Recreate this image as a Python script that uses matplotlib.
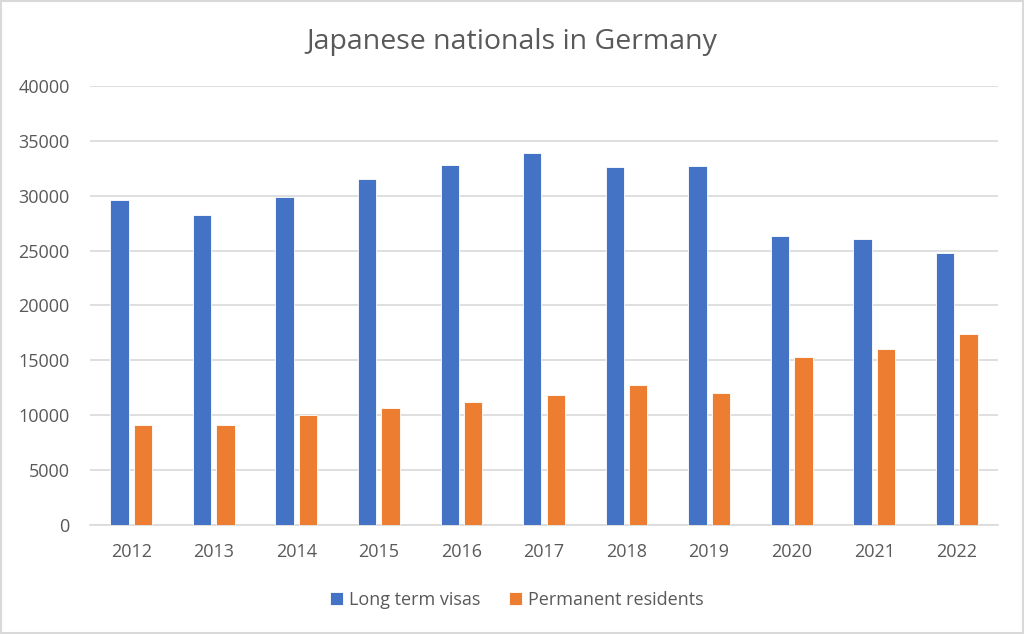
import matplotlib.pyplot as plt
import numpy as np
from matplotlib.patches import Rectangle

years = ["2012", "2013", "2014", "2015", "2016", "2017",
         "2018", "2019", "2020", "2021", "2022"]
long_term_visas = [29600, 28250, 29850, 31520, 32800, 33850,
                   32620, 32740, 26370, 26070, 24800]
permanent_residents = [9120, 9120, 10000, 10670, 11220, 11860,
                       12740, 12010, 15310, 16040, 17430]

BLUE = "#4472C4"
ORANGE = "#ED7D31"
TEXT = "#595959"
GRID = "#D9D9D9"

plt.rcParams["font.family"] = ["Open Sans", "DejaVu Sans"]

fig = plt.figure(figsize=(10.24, 6.34), dpi=100)
ax = fig.add_axes([0.0879, 0.172, 0.8867, 0.6924])

x = np.arange(len(years))
width = 0.222
offset = 0.142
ax.bar(x - offset, long_term_visas, width, color=BLUE, edgecolor="white",
       linewidth=0.6, label="Long term visas", zorder=3)
ax.bar(x + offset, permanent_residents, width, color=ORANGE, edgecolor="white",
       linewidth=0.6, label="Permanent residents", zorder=3)

ax.set_xlim(-0.5, len(years) - 0.5)
ax.set_ylim(0, 40000)
ax.set_yticks(np.arange(0, 40001, 5000))
ax.set_xticks(x)
ax.set_xticklabels(years)
ax.yaxis.grid(True, color=GRID, linewidth=1.2, zorder=0)
ax.tick_params(axis="both", length=0, labelsize=13, colors=TEXT)
ax.tick_params(axis="y", pad=14.5)
ax.tick_params(axis="x", pad=13)
for side in ("top", "right", "left"):
    ax.spines[side].set_visible(False)
ax.spines["bottom"].set_color(GRID)
ax.spines["bottom"].set_linewidth(1.2)

fig.text(0.5, 0.934, "Japanese nationals in Germany", ha="center", va="center",
         fontsize=20.5, color=TEXT)

fig.legend(loc="center", bbox_to_anchor=(0.505, 0.054), ncol=2, frameon=False,
           fontsize=13, labelcolor=TEXT, handlelength=0.7, handleheight=0.7,
           handletextpad=0.35, columnspacing=1.6)

fig.patches.append(Rectangle((0.001, 0.0015), 0.998, 0.997, transform=fig.transFigure,
                             fill=False, edgecolor="#D9D9D9", linewidth=1.5))

fig.savefig("out.png", dpi=100)
plt.close(fig)
